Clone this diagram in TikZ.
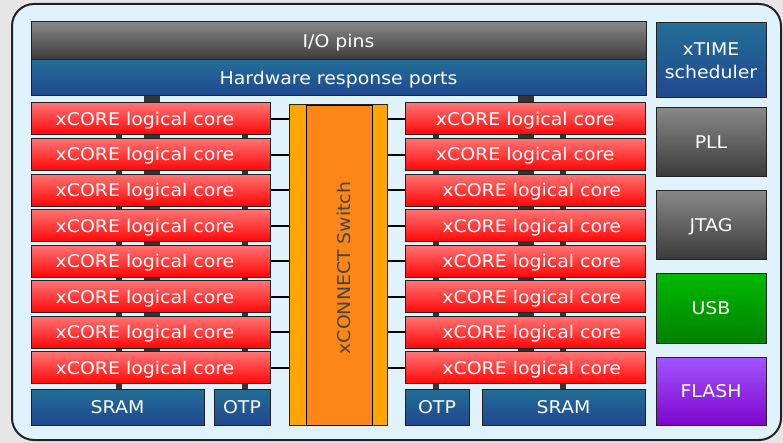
\documentclass[tikz,border=0pt]{standalone}
\usepackage{fontspec}
\setmainfont{DejaVu Sans}[FakeStretch=1.08]
\pgfdeclarelayer{under}
\pgfsetlayers{under,main}
\definecolor{pagebg}{HTML}{E6E6E6}
\definecolor{panelbg}{HTML}{E0F2FC}
\definecolor{edge}{HTML}{222222}
\definecolor{grayA}{HTML}{888888}
\definecolor{grayB}{HTML}{3A3A3A}
\definecolor{blueA}{HTML}{236D96}
\definecolor{blueB}{HTML}{204890}
\definecolor{redA}{HTML}{FF7373}
\definecolor{redB}{HTML}{FF0505}
\definecolor{greenA}{HTML}{00BB00}
\definecolor{greenB}{HTML}{007F00}
\definecolor{purpA}{HTML}{A055FF}
\definecolor{purpB}{HTML}{7F05CC}
\definecolor{orangeA}{HTML}{FFA500}
\definecolor{orangeB}{HTML}{FD8618}
\definecolor{busc}{HTML}{333333}
\definecolor{swtext}{HTML}{444444}
\tikzset{
  grad/.style 2 args={top color=#1, middle color=#1, bottom color=#2},
  blk/.style={draw=edge, line width=1pt, inner sep=0pt, text=white,
    font=\fontsize{17.5}{23}\selectfont, align=center, text height=12.8pt, text depth=0pt},
  gbox/.style={blk, grad={grayA}{grayB}},
  bbox/.style={blk, grad={blueA}{blueB}},
  core/.style={blk, grad={redA}{redB}, minimum height=32pt},
  lcore/.style={core, minimum width=239pt},
  rcore/.style={core, minimum width=240.5pt},
  link/.style={draw=black, line width=2pt},
  widebus/.style={draw=busc, line width=16pt},
  thinbus/.style={draw=busc, line width=6pt},
}
\begin{document}
\begin{tikzpicture}[x=1pt,y=-1pt]
\useasboundingbox (0,0) rectangle (783,443);
\begin{pgfonlayer}{under}
\fill[pagebg] (0,0) rectangle (783,443);
\draw[edge, line width=2pt, fill=panelbg, rounded corners=22pt] (12,4) rectangle (781,440);
\end{pgfonlayer}

% top bars
\node[gbox, minimum width=615pt, minimum height=38pt] (io) at (338.5,41) {I/O pins};
\node[bbox, minimum width=615pt, minimum height=36pt] (hw) at (338.5,78) {Hardware response ports};

% right column blocks
\node[bbox, text height=, text depth=, minimum width=110pt, minimum height=75pt] (xtime) at (711,60.5) {xTIME\\scheduler};
\node[gbox, minimum width=110pt, minimum height=69pt] (pll) at (711,142.5) {PLL};
\node[gbox, minimum width=110pt, minimum height=69pt] (jtag) at (711,225.5) {JTAG};
\node[blk, grad={greenA}{greenB}, minimum width=110pt, minimum height=70pt] (usb) at (711,308) {USB};
\node[blk, grad={purpA}{purpB}, minimum width=110pt, minimum height=68pt] (flash) at (711,391) {FLASH};

% switch
\node[draw=edge, line width=1pt, fill=orangeA, minimum width=98.5pt, minimum height=320pt, inner sep=0pt] (sw) at (338.25,265) {};
\node[draw=black, line width=0.8pt, fill=orangeB, minimum width=66.6pt, minimum height=320pt, inner sep=0pt] (swin) at (339.3,265) {};
\node[text=swtext, font=\fontsize{17.5}{20}\selectfont, rotate=90, inner sep=0pt] (swlabel) at (344,268) {xCONNECT Switch};

% cores
\foreach \i in {1,...,8} {
  \pgfmathsetmacro{\yy}{119+35.57*(\i-1)}
  \node[lcore] (l\i) at (150.5,\yy) {xCORE logical core\hspace{11pt}};
  \ifnum\i<3
    \node[rcore] (r\i) at (525.25,\yy) {xCORE logical core};
  \else
    \node[rcore] (r\i) at (525.25,\yy) {\hspace{13pt}xCORE logical core};
  \fi
  \draw[link] (l\i.east) -- (l\i.east -| sw.west);
  \draw[link] (r\i.west) -- (r\i.west -| sw.east);
}

% memories
\node[bbox, minimum width=173pt, minimum height=36pt] (lsram) at (117.5,407) {SRAM};
\node[bbox, minimum width=56pt, minimum height=36pt] (lotp) at (242,407) {OTP};
\node[bbox, minimum width=64pt, minimum height=36pt] (rotp) at (437,407) {OTP};
\node[bbox, minimum width=163pt, minimum height=36pt] (rsram) at (563.5,407) {SRAM};

% buses behind the cores
\begin{pgfonlayer}{under}
\draw[widebus] (hw.south -| 152,0) -- (l8.north -| 152,0);
\draw[thinbus] (l1.south -| 118.5,0) -- (lsram.north -| 118.5,0);
\draw[thinbus] (l1.south -| 245,0) -- (lotp.north -| 245,0);
\draw[widebus] (hw.south -| 526,0) -- (r8.north -| 526,0);
\draw[thinbus] (r1.south -| 436,0) -- (rotp.north -| 436,0);
\draw[thinbus] (r1.south -| 562.5,0) -- (rsram.north -| 562.5,0);
\end{pgfonlayer}
\end{tikzpicture}
\end{document}
